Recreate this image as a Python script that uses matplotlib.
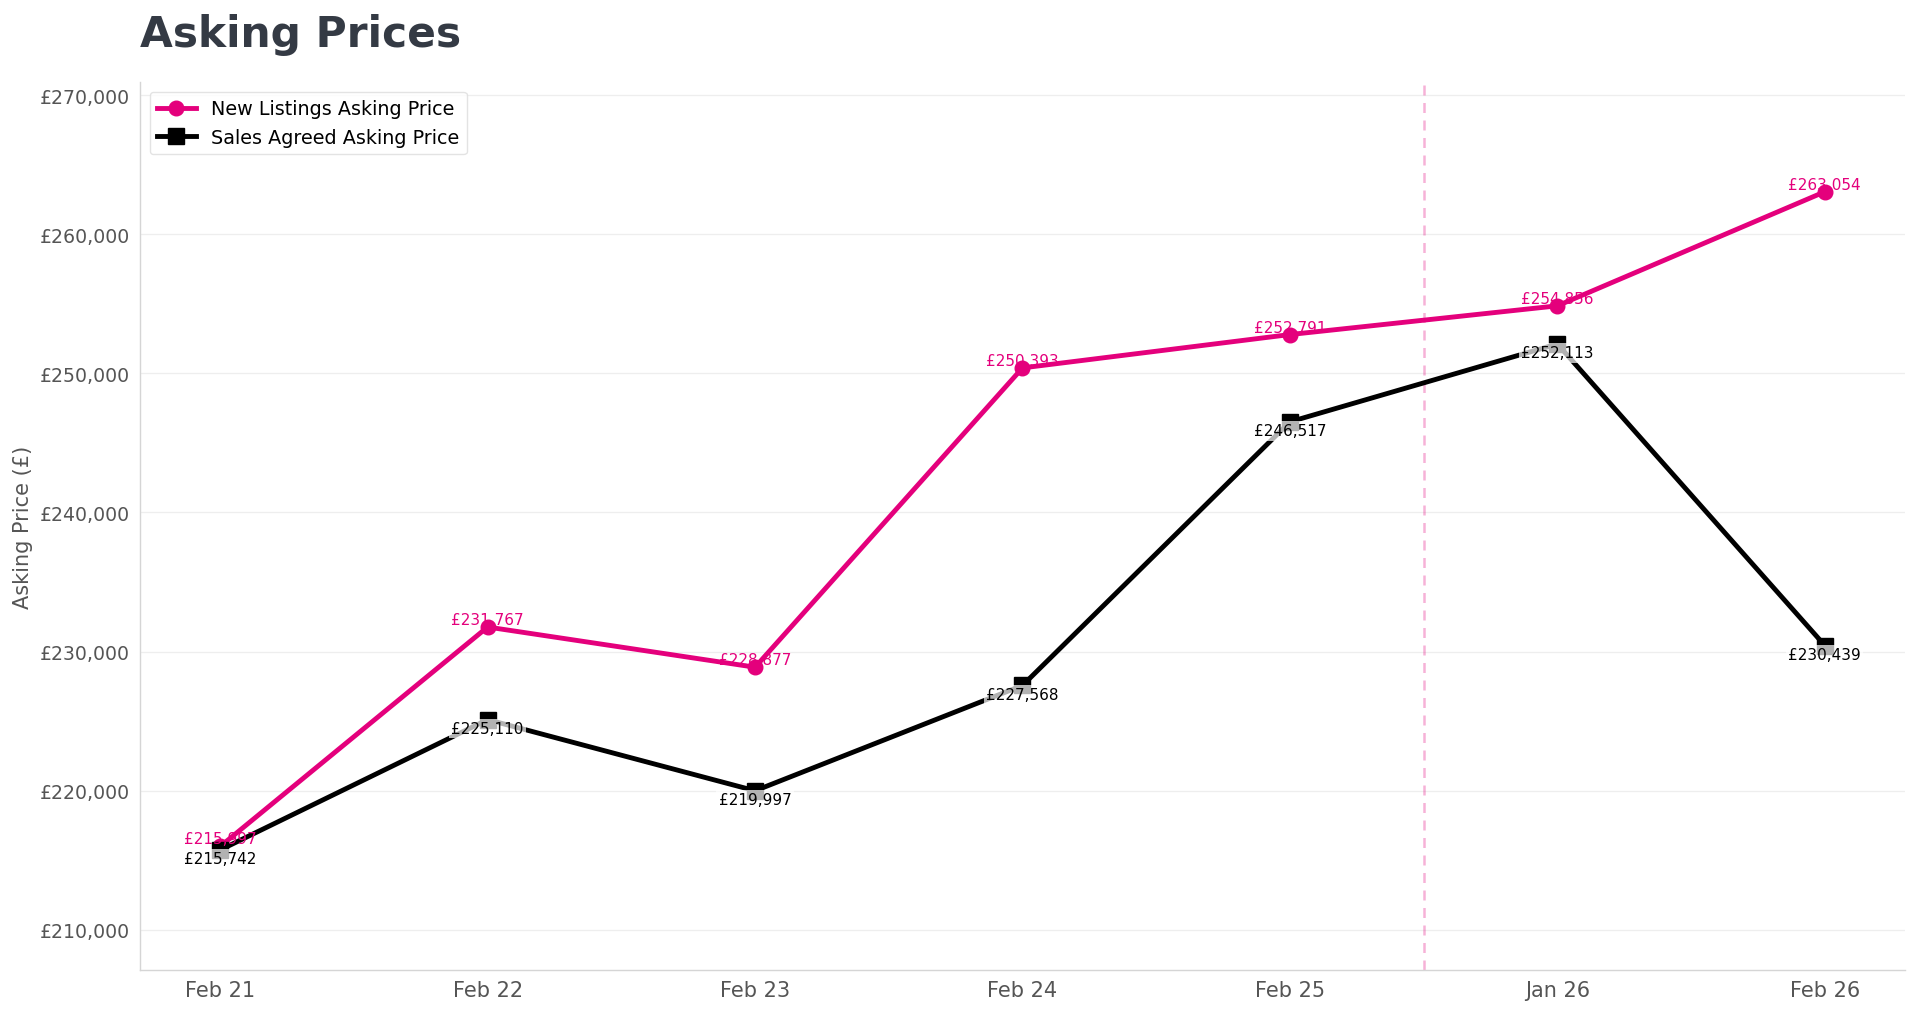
import matplotlib
matplotlib.use("Agg")
import matplotlib.pyplot as plt
from matplotlib.ticker import FuncFormatter, MultipleLocator

categories = ["Feb 21", "Feb 22", "Feb 23", "Feb 24", "Feb 25", "Jan 26", "Feb 26"]
new_listings = [215997, 231767, 228877, 250393, 252791, 254856, 263054]
sales_agreed = [215742, 225110, 219997, 227568, 246517, 252113, 230439]

PINK = "#E4007C"
GREY_TXT = "#555555"

fig = plt.figure(figsize=(19.2, 10.12), dpi=100)
ax = fig.add_axes([0.0729, 0.0405, 0.9193, 0.8775])

x = list(range(len(categories)))
ax.plot(x, new_listings, color=PINK, lw=3.5, marker="o", markersize=10.5,
        label="New Listings Asking Price", zorder=3)
ax.plot(x, sales_agreed, color="black", lw=3.5, marker="s", markersize=12,
        label="Sales Agreed Asking Price", zorder=4)

for xi, v in zip(x, new_listings):
    ax.annotate(f"£{v:,}", (xi, v), xytext=(0, 0), textcoords="offset points",
                ha="center", va="bottom", fontsize=11, color=PINK, zorder=5)
for xi, v in zip(x, sales_agreed):
    ax.annotate(f"£{v:,}", (xi, v), xytext=(0, -1), textcoords="offset points",
                ha="center", va="top", fontsize=11, color="black", zorder=6,
                bbox=dict(boxstyle="square,pad=0.15", fc="white", ec="none", alpha=0.7))

ax.axvline(4.5, color=PINK, alpha=0.3, lw=1.8, ls=(0, (4, 3)), zorder=1)

ax.set_xlim(-0.3, 6.3)
ax.set_ylim(min(sales_agreed) * 0.96, max(new_listings) * 1.03)
ax.set_xticks(x)
ax.set_xticklabels(categories)
ax.yaxis.set_major_locator(MultipleLocator(10000))
ax.yaxis.set_major_formatter(FuncFormatter(lambda v, p: f"£{v:,.0f}"))

ax.grid(axis="y", color="#eeeeee", lw=0.9, zorder=0)
ax.grid(axis="x", visible=False)
ax.set_axisbelow(True)

for s in ["top", "right"]:
    ax.spines[s].set_visible(False)
for s in ["left", "bottom"]:
    ax.spines[s].set_color("#d5d5d5")
    ax.spines[s].set_linewidth(1.0)

ax.tick_params(axis="both", length=0, pad=7, labelcolor=GREY_TXT)
ax.tick_params(axis="x", labelsize=15)
ax.tick_params(axis="y", labelsize=13.6)
ax.set_ylabel("Asking Price (£)", fontsize=15, color=GREY_TXT, labelpad=5)

leg = ax.legend(loc="upper left", fontsize=13.8, frameon=True, fancybox=True)
leg.get_frame().set_edgecolor("#dddddd")
leg.get_frame().set_linewidth(1.0)

fig.text(140 / 1920, 1 - 47 / 1012, "Asking Prices", fontsize=30.5, fontweight="bold",
         color="#343a44", ha="left", va="baseline")

fig.savefig("out.png", dpi=100, facecolor="white")
